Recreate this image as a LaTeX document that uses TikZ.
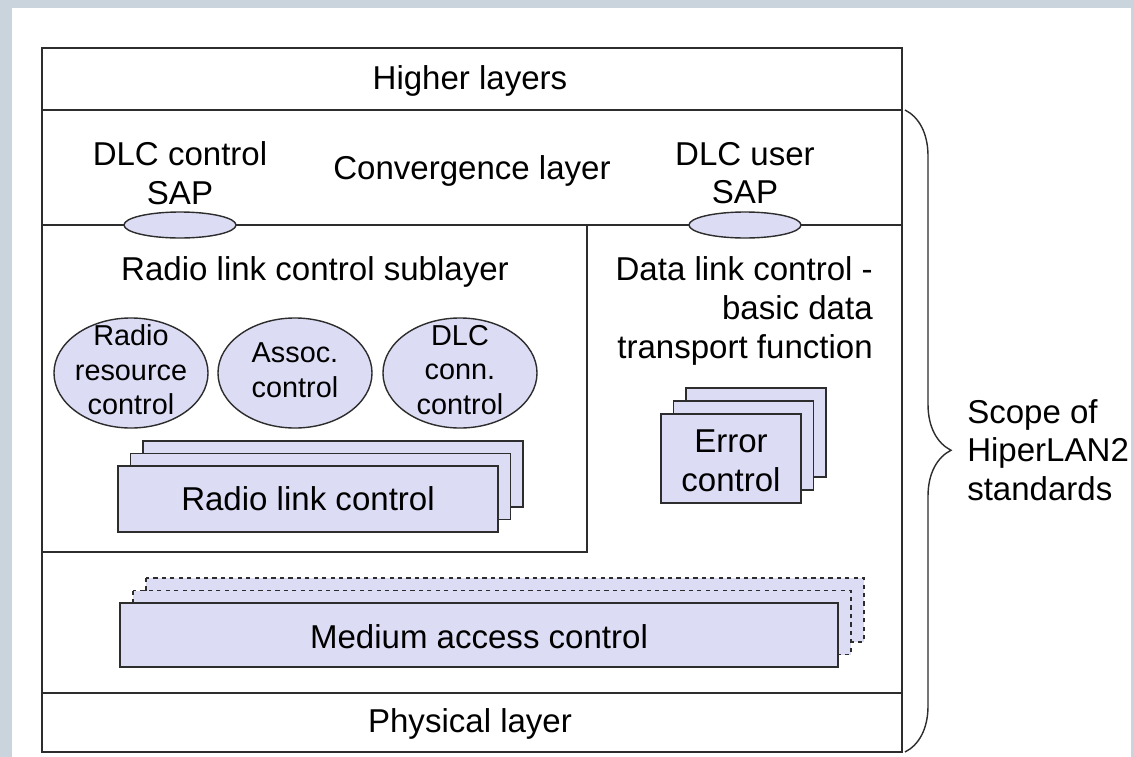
\documentclass[tikz,border=0pt]{standalone}
\usepackage{fontspec}
\setmainfont{Liberation Sans}
\usetikzlibrary{calc,shapes.geometric,decorations.pathreplacing}
\definecolor{FrameGray}{RGB}{201,212,220}
\definecolor{BoxFill}{RGB}{220,220,245}
\definecolor{LineGray}{RGB}{45,45,45}

\begin{document}
\begin{tikzpicture}[x=0.025cm,y=-0.025cm,
  lbl/.style={font=\fontsize{23.5}{27.5}\selectfont,align=center,inner sep=0pt},
  smalllbl/.style={lbl,font=\fontsize{20.5}{24.5}\selectfont},
  layer/.style={draw=LineGray,line width=1.3pt},
  card/.style={draw=LineGray,fill=BoxFill,line width=1pt},
  dcard/.style={card,dashed},
  sap/.style={ellipse,card,inner sep=0pt,minimum width=2.8cm,minimum height=0.65cm},
  func/.style={ellipse,card,inner sep=0pt,minimum width=3.85cm,minimum height=2.75cm}]
  \useasboundingbox (0,0) rectangle (1134,757);
  \fill[FrameGray] (0,0) rectangle (1134,757);
  \fill[white] (12,8) rectangle (1131,757);

  % layers
  \draw[layer] (42,48) rectangle (902,752);
  \draw[layer] (42,110) -- (902,110);
  \draw[layer] (42,225) -- (902,225);
  \draw[layer] (42,693) -- (902,693);
  \draw[layer,line width=1pt] (42,225) rectangle (587,552);

  \node[lbl] (higher) at (470,81) {Higher layers};
  \node[lbl] (conv) at (472,171) {Convergence layer};
  \node[lbl] (ctrlsap) at (180,173) {DLC control\\SAP};
  \node[lbl] (usersap) at (745,173) {DLC user\\SAP};
  \node[sap] (ctrlsapo) at (180,225) {};
  \node[sap] (usersapo) at (745,225) {};

  % radio link control sublayer
  \node[lbl] (rlcsub) at (315,272) {Radio link control sublayer};
  \node[func] (rrc) at (131,373) {};
  \node[func] (assoc) at (295,373) {};
  \node[func] (conn) at (460,373) {};
  \node[smalllbl] at ($(rrc)+(0,-3)$) {Radio\\resource\\control};
  \node[smalllbl] at ($(assoc)+(0,-3)$) {Assoc.\\control};
  \node[smalllbl] at ($(conn)+(0,-3)$) {DLC\\conn.\\control};
  \foreach \d in {2,1,0}
    \draw[card] ($(118,466)+(\d*12.5,-\d*12.5)$) rectangle +(380,66);
  \node[lbl] (rlc) at (308,499) {Radio link control};

  % basic data transport
  \node[lbl,align=right,anchor=east] (dlcbasic) at (873,311)
    {Data link control -\\basic data\\transport function};
  \foreach \d in {2,1,0}
    \draw[card] ($(661,414)+(\d*12.5,-\d*13)$) rectangle +(140,89);
  \node[lbl] (err) at (731,461) {Error\\control};

  % medium access control
  \foreach \d in {2,1}
    \draw[dcard] ($(120,603)+(\d*13,-\d*12.5)$) rectangle +(718,64);
  \draw[card] (120,603) rectangle (838,667);
  \node[lbl] (mac) at (479,637) {Medium access control};

  \node[lbl] (phy) at (470,724) {Physical layer};

  % scope brace
  \coordinate (btop) at (905,110);
  \coordinate (bbot) at (905,752);
  \draw[LineGray,line width=1pt,decorate,decoration={brace,amplitude=1.15cm,aspect=0.53}] (btop) -- (bbot);
  \node[lbl,align=left,anchor=west] (scope) at (967,450) {Scope of\\HiperLAN2\\standards};
\end{tikzpicture}
\end{document}
